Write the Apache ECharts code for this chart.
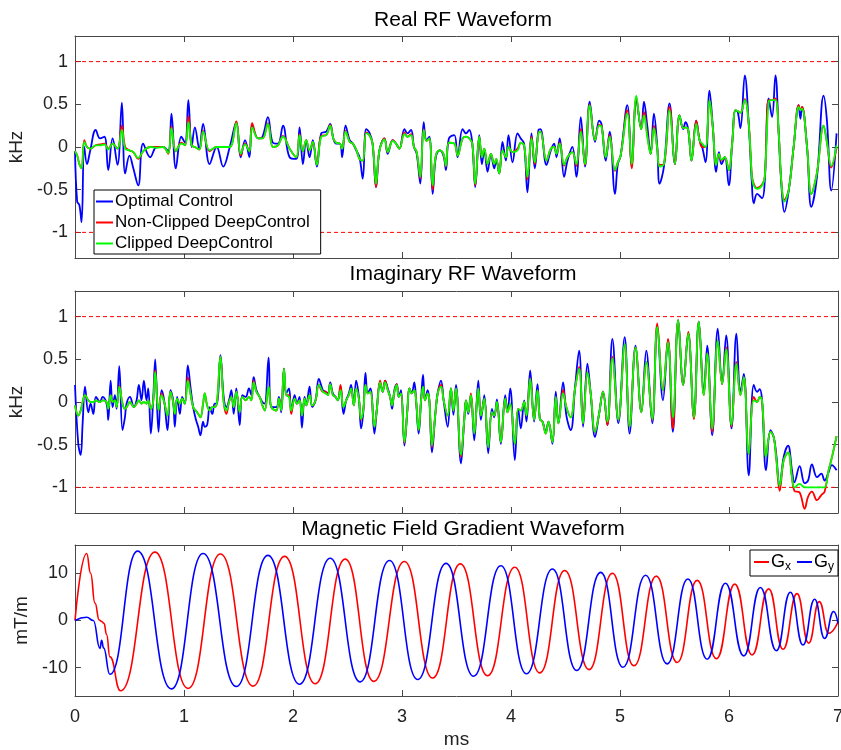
<!DOCTYPE html>
<html>
<head>
<meta charset="utf-8">
<script src="https://cdn.jsdelivr.net/npm/echarts@6/dist/echarts.min.js"></script>
<style>
html, body { margin: 0; padding: 0; background: #fff; }
#main { width: 841px; height: 750px; }
</style>
</head>
<body>
<div id="main"></div>
<script>
// ---- data ----
// time in ms, RF in kHz, gradients in mT/m

// Real RF waveform
var realT = [0,0.02,0.04,0.06,0.085,0.11,0.14,0.19,0.23,0.27,0.305,0.345,0.39,0.43,0.46,0.5,0.535,0.58,0.625,0.69,
  0.75,0.81,0.855,0.885,0.925,0.975,1.01,1.04,1.07,1.1,1.14,1.175,1.235,1.3,1.36,1.42,1.48,1.52,1.56,1.6,
  1.625,1.68,1.72,1.77,1.816,1.862,1.908,1.969,2.03,2.06,2.091,2.121,2.152,2.182,2.219,2.259,2.305,2.341,2.37,2.396,
  2.43,2.451,2.482,2.52,2.549,2.58,2.61,2.64,2.671,2.7,2.73,2.762,2.793,2.839,2.869,2.915,2.945,2.976,3.022,3.05,
  3.083,3.11,3.135,3.168,3.199,3.225,3.251,3.281,3.31,3.345,3.38,3.403,3.43,3.48,3.51,3.556,3.587,3.617,3.645,3.672,
  3.709,3.733,3.755,3.785,3.816,3.846,3.865,3.892,3.922,3.953,3.977,4.014,4.06,4.09,4.12,4.151,4.188,4.218,4.252,4.27,
  4.325,4.365,4.396,4.417,4.447,4.487,4.518,4.563,4.6,4.64,4.679,4.722,4.771,4.808,4.83,4.869,4.905,4.954,4.98,5.006,
  5.067,5.107,5.15,5.195,5.22,5.25,5.281,5.311,5.342,5.363,5.403,5.455,5.504,5.546,5.58,5.601,5.626,5.656,5.699,5.73,
  5.754,5.785,5.821,5.852,5.882,5.907,5.931,5.962,5.998,6.029,6.059,6.08,6.105,6.145,6.181,6.21,6.227,6.258,6.303,6.328,
  6.364,6.395,6.426,6.456,6.48,6.508,6.548,6.593,6.639,6.655,6.67,6.716,6.755,6.807,6.868,6.899,6.938,6.987];
var realOC = [-0.05,-0.64,-0.68,-0.88,0,-0.2,-0.04,0.2,0.1,0.12,-0.27,0.1,-0.21,0.52,-0.31,-0.1,-0.25,-0.45,0.04,-0.12,
  0,0,-0.05,0.39,-0.25,0.12,0.05,0.55,0,0.23,-0.02,0.27,-0.2,0,-0.23,0,0.29,-0.12,0.08,-0.12,
  0.25,0.1,0.12,0.35,0.05,0.04,0.25,-0.12,-0.14,0.23,-0.2,0.08,-0.12,0.08,-0.23,0.16,0.18,0.27,0.1,0.04,
  0.04,-0.12,0.25,0.08,0.04,-0.04,-0.12,-0.37,0.21,0.17,0.04,-0.47,-0.04,0.1,-0.08,0.08,0.04,-0.02,0.21,0.16,
  0.2,0,-0.08,-0.43,0.29,0.08,0.12,-0.55,-0.12,-0.04,-0.1,-0.27,0.1,0.14,-0.12,0.21,0.16,0.2,0.04,-0.47,
  0.14,-0.2,-0.04,-0.29,-0.08,-0.25,-0.16,-0.31,0.06,-0.16,0.14,-0.18,0.16,0.1,0.04,-0.53,0.16,-0.25,0.2,0.21,
  -0.21,-0.04,0.04,-0.12,0.1,-0.35,-0.16,0,-0.35,0.35,-0.23,0.53,0.06,0.31,0.27,-0.16,0.18,-0.55,-0.2,-0.1,
  0.49,-0.23,0.55,0.21,0.53,0.25,-0.08,0.39,0,-0.43,-0.23,0.51,-0.2,0.37,0.21,0.29,0.2,-0.16,0.31,0.08,
  0,-0.18,0.66,0.23,-0.29,-0.06,-0.2,-0.12,-0.45,0.04,0.43,0.41,0.22,0.84,0.27,-0.43,-0.66,-0.55,-0.6,-0.4,
  0.57,0.35,0.84,0.16,-0.43,-0.76,-0.51,0,0.49,0.33,0.47,0,-0.7,-0.35,0.6,0.3,-0.51,0.16];
var realNC = [-0.05,-0.1,-0.2,-0.25,0.08,0,-0.02,0.02,0.03,0.04,-0.02,0.04,-0.02,0.25,0,-0.04,-0.06,-0.14,-0.05,0,
  0,0,-0.08,0.24,-0.05,0.05,0.02,0.36,0.02,0,-0.03,0.19,-0.05,0,0,0,0.3,-0.1,0.04,-0.05,
  0.28,0.1,0.1,0.28,0,0.02,0.13,-0.02,-0.12,0.15,-0.05,0.08,-0.04,0.06,-0.21,0.13,0.14,0.26,0.1,0.05,
  0.04,-0.02,0.19,0.06,0.04,-0.03,-0.14,-0.16,0.17,0.14,0.04,-0.47,-0.04,0.1,-0.06,0.08,0.04,-0.02,0.17,0.12,
  0.15,0,-0.06,-0.37,0.21,0.07,0.1,-0.5,-0.1,-0.04,-0.08,-0.23,0.05,0.04,-0.1,0.1,0.12,0.1,0.04,-0.45,
  0.12,-0.12,-0.02,-0.2,-0.08,-0.2,-0.14,-0.31,-0.04,-0.12,0,-0.06,-0.02,0.05,0.02,-0.38,0.12,-0.2,0.17,0.18,
  -0.16,-0.02,0,-0.08,0.05,-0.22,-0.12,-0.06,-0.22,0.21,-0.21,0.5,0.08,0.26,0.25,-0.12,0.14,-0.28,-0.18,-0.1,
  0.43,-0.25,0.58,0.21,0.41,0.15,-0.08,0.25,-0.02,-0.21,-0.2,0.47,-0.2,0.37,0.22,0.23,0.2,-0.16,0.31,0.08,
  0,0,0.55,0.22,-0.21,-0.08,-0.16,-0.12,-0.27,0.04,0.43,0.42,0.4,0.56,0.27,-0.33,-0.43,-0.48,-0.44,-0.35,
  0.55,0.55,0.57,0.16,-0.4,-0.62,-0.5,0,0.49,0.43,0.47,0,-0.55,-0.3,0.25,0.05,-0.24,-0.01];
var realCL = [-0.05,-0.1,-0.2,-0.25,0.06,0,-0.02,0.02,0.02,0.03,-0.03,0.04,-0.02,0.2,-0.02,-0.04,-0.06,-0.13,-0.05,0,
  -0.01,0,-0.07,0.22,-0.05,0.04,0.02,0.29,0.02,0,-0.03,0.18,-0.04,0,0,0,0.28,-0.08,0.03,-0.05,
  0.23,0.1,0.1,0.27,0,0.02,0.12,-0.02,-0.12,0.14,-0.05,0.08,-0.04,0.06,-0.21,0.12,0.14,0.25,0.1,0.05,
  0.04,-0.02,0.18,0.06,0.04,-0.03,-0.14,-0.16,0.16,0.14,0.04,-0.43,-0.04,0.09,-0.06,0.07,0.04,-0.02,0.15,0.12,
  0.14,0,-0.06,-0.35,0.2,0.07,0.1,-0.45,-0.1,-0.04,-0.08,-0.22,0.05,0.04,-0.1,0.1,0.12,0.1,0.04,-0.43,
  0.12,-0.12,-0.02,-0.2,-0.08,-0.2,-0.14,-0.31,-0.04,-0.12,0,-0.06,-0.04,0.05,0.02,-0.35,0.1,-0.18,0.16,0.18,
  -0.16,-0.02,0,-0.08,0.04,-0.21,-0.12,-0.06,-0.2,0.18,-0.2,0.49,0.08,0.25,0.24,-0.12,0.12,-0.27,-0.18,-0.1,
  0.39,-0.2,0.6,0.21,0.37,0.12,-0.08,0.22,-0.02,-0.23,-0.2,0.43,-0.2,0.37,0.22,0.23,0.2,-0.16,0.27,0.08,
  0.04,0,0.55,0.22,-0.21,-0.08,-0.15,-0.12,-0.27,0.04,0.43,0.42,0.4,0.55,0.27,-0.35,-0.45,-0.49,-0.45,-0.35,
  0.53,0.55,0.55,0.16,-0.4,-0.64,-0.5,0,0.47,0.43,0.45,0,-0.55,-0.3,0.25,0.05,-0.22,0.02];

// Imaginary RF waveform
var imagT = [0,0.03,0.052,0.07,0.092,0.122,0.143,0.168,0.192,0.229,0.253,0.29,0.305,0.327,0.345,0.366,0.382,0.406,0.436,0.458,
  0.473,0.504,0.54,0.565,0.586,0.61,0.632,0.656,0.672,0.696,0.717,0.736,0.766,0.794,0.818,0.849,0.876,0.9,0.916,0.937,
  0.962,0.983,1.007,1.035,1.059,1.084,1.108,1.13,1.151,1.175,1.19,1.212,1.236,1.26,1.282,1.303,1.334,1.364,1.389,1.413,
  1.435,1.456,1.48,1.511,1.535,1.566,1.596,1.618,1.639,1.664,1.694,1.719,1.74,1.776,1.801,1.847,1.871,1.892,1.917,1.938,
  1.963,1.984,2.015,2.036,2.06,2.082,2.106,2.121,2.152,2.176,2.207,2.237,2.274,2.298,2.32,2.341,2.366,2.39,2.411,2.436,
  2.463,2.488,2.512,2.533,2.558,2.579,2.604,2.625,2.646,2.665,2.686,2.71,2.747,2.768,2.799,2.823,2.845,2.869,2.891,2.909,
  2.93,2.952,2.97,2.991,3.022,3.049,3.068,3.089,3.113,3.129,3.153,3.175,3.193,3.211,3.235,3.251,3.275,3.306,3.327,3.358,
  3.382,3.419,3.449,3.472,3.495,3.541,3.571,3.587,3.608,3.632,3.663,3.7,3.724,3.755,3.791,3.825,3.846,3.871,3.907,3.947,
  3.968,3.993,4.035,4.066,4.09,4.121,4.142,4.176,4.212,4.243,4.265,4.289,4.319,4.344,4.38,4.411,4.435,4.478,4.508,4.548,
  4.588,4.625,4.661,4.701,4.731,4.771,4.808,4.844,4.884,4.93,4.985,5.043,5.088,5.143,5.196,5.241,5.296,5.342,5.394,5.44,
  5.485,5.534,5.58,5.626,5.678,5.723,5.769,5.8,5.846,5.897,5.937,5.974,6.023,6.068,6.105,6.136,6.181,6.227,6.258,6.282,
  6.303,6.34,6.38,6.41,6.432,6.465,6.502,6.542,6.578,6.6,6.648,6.694,6.725,6.761,6.807,6.847,6.877,6.914,6.944,6.987];
var imagOC = [0.2,-0.49,-0.62,-0.25,0.18,-0.12,-0.02,-0.14,0.06,0,0.06,-0.02,-0.21,0.25,-0.06,0.08,-0.08,0.42,-0.33,-0.18,
  -0.02,0.06,-0.06,0.02,0.2,0.02,0.25,0.02,0.16,-0.37,0.02,0.5,-0.35,0.14,0.02,-0.33,0.14,0.02,-0.29,0.06,
  -0.14,0.06,-0.02,0.43,0.18,-0.06,-0.2,-0.29,-0.39,-0.23,-0.29,-0.27,-0.06,-0.14,-0.02,-0.02,0.55,0.06,-0.06,0.02,
  0.14,-0.14,0.16,-0.27,0.08,0.06,0.16,0.08,0.29,0.14,0.06,0,-0.02,0.52,-0.06,-0.06,0.06,-0.12,0.39,0.1,
  0.16,-0.1,0.08,-0.02,0.06,-0.3,0.06,-0.04,0.18,-0.06,0.02,0.27,0.14,0.12,0.1,0.23,0.1,0.06,0.02,0.18,
  -0.14,0.02,0.1,0.2,-0.04,0.25,0.06,-0.31,-0.1,0.34,0.1,0.16,-0.37,-0.1,0.23,0.12,0.25,0.16,0.06,-0.08,
  0.14,0.21,0.06,0.14,-0.51,-0.1,0.16,0.1,0.23,0.02,-0.37,0.02,0.32,0.02,0.14,0.02,-0.59,-0.14,0.1,0.25,
  0.02,-0.29,0.16,-0.15,0.2,-0.72,-0.21,0.02,-0.14,0.08,-0.45,0.25,-0.21,0.08,-0.6,-0.08,-0.18,0.03,-0.49,0.08,
  -0.12,0.16,-0.68,-0.08,-0.31,0.02,-0.23,0.37,-0.23,0.21,-0.2,-0.23,-0.35,-0.23,-0.49,0.12,-0.25,0.23,-0.16,-0.33,
  0.18,0.6,-0.29,0.45,0.1,-0.41,-0.14,0.12,-0.27,0.74,-0.25,0.76,-0.37,0.66,-0.12,0.6,-0.25,0.88,0.02,0.72,
  -0.35,0.96,0.2,0.8,-0.18,0.94,0.12,0.66,-0.39,0.86,0.21,0.78,-0.31,0.8,0.12,0.33,-0.86,0.2,0.12,0.15,
  0.02,-0.8,-0.33,-0.41,-0.6,-0.98,-0.64,-0.51,-0.8,-0.94,-0.75,-0.95,-0.92,-0.73,-0.88,-0.84,-0.92,-0.82,-0.74,-0.8];
var imagNC = [-0.04,-0.16,-0.1,0,0.08,0.02,0,0,0.02,0,0.02,0,-0.08,0.08,0,0.02,-0.06,0.19,-0.02,-0.08,
  -0.06,0,-0.06,-0.02,0.02,-0.02,0,-0.02,0.02,-0.08,0,0.37,-0.1,0.1,0,-0.16,0.12,0,-0.14,0.04,
  -0.02,0.04,-0.02,0.29,0.1,-0.06,-0.1,-0.14,-0.18,-0.02,0.1,-0.04,-0.1,-0.06,-0.06,0,0.53,0,-0.14,0,
  0.06,-0.06,0.12,-0.12,0.06,0.02,0.06,0.02,0.25,0.12,0.06,-0.04,-0.1,0.18,-0.06,-0.1,0.04,-0.1,0.39,0.08,
  0.08,-0.14,0.04,-0.02,0.02,-0.16,0.04,-0.04,0.08,-0.04,0.02,0.2,0.12,0.12,0.08,0.21,0.08,0.06,0.02,0.2,
  -0.06,0.02,0.08,0.16,-0.04,0.16,0.04,-0.21,-0.08,0.2,0.1,0.12,-0.29,-0.1,0.25,0.12,0.25,0.14,0.06,-0.04,
  0.12,0.21,0.06,0.1,-0.48,-0.1,0.16,0.1,0.14,0.02,-0.33,0.02,0.18,0.02,0.1,0.02,-0.53,-0.14,0.1,0.2,
  0.02,-0.16,0.16,-0.1,0.16,-0.64,-0.21,0.02,-0.12,0.1,-0.37,0.16,-0.16,0.04,-0.53,-0.12,-0.16,0,-0.47,0.04,
  -0.12,-0.02,-0.49,-0.08,-0.1,0,-0.16,0.28,-0.21,0.14,-0.2,-0.23,-0.37,-0.23,-0.47,0.06,-0.25,0.14,-0.06,-0.18,
  0.16,0.41,-0.25,0.35,0.1,-0.35,-0.14,0.12,-0.27,0.53,-0.21,0.66,-0.29,0.64,-0.12,0.47,-0.21,0.92,0.14,0.74,
  -0.31,0.96,0.2,0.82,-0.2,0.94,0.08,0.57,-0.35,0.72,0.21,0.64,-0.29,0.47,0.08,0.29,-0.61,0.06,0,0.06,
  0.02,-0.64,-0.35,-0.41,-0.64,-1.04,-0.68,-0.59,-0.88,-1.04,-1.06,-1.25,-1.11,-1.05,-1.15,-1.09,-1.05,-0.8,-0.65,-0.4];
var imagCL = [-0.04,-0.16,-0.1,0,0.08,0.02,0,0,0.02,0,0.02,0,-0.08,0.08,0,0.02,-0.06,0.18,-0.02,-0.08,
  -0.06,0,-0.06,-0.02,0.02,-0.02,0,-0.02,0.02,-0.08,0,0.35,-0.1,0.08,0,-0.16,0.12,0,-0.14,0.04,
  -0.02,0.04,-0.02,0.25,0.1,-0.06,-0.1,-0.14,-0.18,-0.02,0.1,-0.04,-0.1,-0.06,-0.06,0,0.53,0,-0.1,0,
  0.06,-0.06,0.12,-0.12,0.06,0.02,0.06,0.02,0.23,0.12,0.06,-0.04,-0.1,0.18,-0.06,-0.1,0.04,-0.1,0.39,0.08,
  0.06,-0.1,0.04,-0.02,0.02,-0.16,0.04,-0.04,0.08,-0.04,0.02,0.2,0.12,0.1,0.08,0.21,0.08,0.06,0.02,0.14,
  -0.06,0.02,0.08,0.16,-0.04,0.16,0.04,-0.2,-0.08,0.2,0.1,0.12,-0.29,-0.1,0.23,0.12,0.23,0.14,0.06,-0.04,
  0.12,0.2,0.06,0.1,-0.47,-0.1,0.16,0.1,0.14,0.02,-0.33,0.02,0.18,0.02,0.1,0.02,-0.51,-0.14,0.1,0.18,
  0.02,-0.16,0.16,-0.1,0.16,-0.62,-0.21,0.02,-0.12,0.08,-0.37,0.16,-0.16,0.04,-0.53,-0.12,-0.16,0,-0.47,0.04,
  -0.12,-0.02,-0.49,-0.08,-0.1,0,-0.16,0.27,-0.21,0.14,-0.2,-0.23,-0.37,-0.23,-0.47,0.06,-0.25,0.1,-0.06,-0.18,
  0.16,0.39,-0.25,0.35,0.1,-0.35,-0.14,0.12,-0.23,0.51,-0.21,0.68,-0.29,0.64,-0.12,0.47,-0.2,0.88,0.14,0.7,
  -0.18,0.96,0.2,0.8,-0.18,0.94,0.08,0.57,-0.31,0.72,0.21,0.62,-0.27,0.45,0.08,0.29,-0.61,0.02,0,0.06,
  0.02,-0.64,-0.35,-0.41,-0.64,-0.98,-0.68,-0.59,-0.88,-1,-0.96,-1,-1,-1,-1,-1,-1,-0.8,-0.65,-0.4];

// Gradient waveforms (peaks and troughs)
var gxT = [0,0.107,0.143,0.183,0.223,0.244,0.266,0.29,0.32,0.418,0.733,1.038,1.334,1.633,1.923,2.204,2.479,2.741,3.022,3.281,
  3.535,3.785,4.035,4.264,4.493,4.716,4.93,5.128,5.333,5.525,5.708,5.885,6.053,6.212,6.364,6.496,6.624,6.731,6.828,6.914,7.0];
var gx = [0,14.2,10,3.7,0.1,-0.2,-0.6,-3.0,-7.7,-14.9,14.5,-14.4,14.1,-13.9,13.6,-13.4,13.0,-12.9,12.5,-12.2,
  12.0,-11.7,11.3,-11.1,10.6,-10.4,10.0,-9.6,9.4,-8.9,8.5,-8.1,7.7,-7.3,6.7,-6.1,5.7,-4.8,4.0,-2.7,-0.3];
var gyT = [0,0.107,0.168,0.229,0.244,0.262,0.32,0.574,0.885,1.175,1.48,1.77,2.06,2.341,2.616,2.885,3.144,3.404,3.657,3.907,
  4.142,4.38,4.603,4.823,5.027,5.235,5.433,5.623,5.8,5.967,6.136,6.288,6.435,6.563,6.679,6.786,6.877,6.96,7.0];
var gy = [0,0.7,0,-5.9,-4.2,-5.8,-11.4,14.7,-14.5,14.2,-14.0,13.8,-13.5,13.2,-13.0,12.7,-12.5,12.1,-11.8,11.6,
  -11.3,10.9,-10.6,10.2,-9.9,9.6,-9.2,8.8,-8.2,7.9,-7.5,7.0,-6.4,6.0,-5.2,4.5,-3.8,1.9,-0.6];

// RF amplitude limits (dashed) and ticks
var rfLimitValues = [1, -1];
var timeRange = [0, 7];
var rfTicks = [-1, -0.5, 0, 0.5, 1];
var gradTicks = [-10, 0, 10];
var rfLimits = [-1.3, 1.3];
var gradLimits = [-16, 16];

// ---- chart ----
var FONT = '"Liberation Sans", Arial, Helvetica, sans-serif';
var AXC = '#484848';
var myChart = echarts.init(document.getElementById('main'), null, { renderer: 'canvas' });

function pairs(t, v) {
  return t.map(function (x, k) { return [x, v[k]]; });
}

var grids = [
  { left: 75, right: 3, top: 36, height: 222, outerBoundsMode: 'none' },
  { left: 75, right: 3, top: 291, height: 222, outerBoundsMode: 'none' },
  { left: 75, right: 3, top: 545, height: 151, outerBoundsMode: 'none' }
];

var xAxes = [], yAxes = [];
grids.forEach(function (g, i) {
  var last = (i === 2);
  xAxes.push({
    type: 'value', gridIndex: i, min: timeRange[0], max: timeRange[1], interval: 1, position: 'bottom',
    axisLine: { onZero: false, lineStyle: { color: AXC, width: 1 } },
    axisTick: { inside: true, length: 6, lineStyle: { color: AXC } },
    axisLabel: { show: last, margin: 12, fontSize: 18, color: '#222', fontFamily: FONT },
    splitLine: { show: false },
    name: last ? 'ms' : '', nameLocation: 'middle', nameGap: 34,
    nameTextStyle: { fontSize: 19, color: '#222', fontFamily: FONT }
  });
  xAxes.push({
    type: 'value', gridIndex: i, min: timeRange[0], max: timeRange[1], interval: 1, position: 'top',
    axisLine: { onZero: false, lineStyle: { color: AXC, width: 1 } },
    axisTick: { inside: true, length: 6, lineStyle: { color: AXC } },
    axisLabel: { show: false }, splitLine: { show: false }
  });
  var lim = last ? gradLimits : rfLimits;
  var tk = last ? gradTicks : rfTicks;
  yAxes.push({
    type: 'value', gridIndex: i, min: lim[0], max: lim[1], position: 'left',
    axisLine: { show: true, onZero: false, lineStyle: { color: AXC, width: 1 } },
    axisTick: { show: true, inside: true, length: 6, customValues: tk, lineStyle: { color: AXC } },
    axisLabel: { customValues: tk, margin: 7, fontSize: 18, color: '#222', fontFamily: FONT },
    splitLine: { show: false },
    name: last ? 'mT/m' : 'kHz', nameLocation: 'middle', nameGap: 42, nameRotate: 90,
    nameTextStyle: { fontSize: 19, color: '#222', fontFamily: FONT }
  });
  yAxes.push({
    type: 'value', gridIndex: i, min: lim[0], max: lim[1], position: 'right',
    axisLine: { show: true, onZero: false, lineStyle: { color: AXC, width: 1 } },
    axisTick: { show: true, inside: true, length: 6, customValues: tk, lineStyle: { color: AXC } },
    axisLabel: { show: false }, splitLine: { show: false }
  });
});

function line(name, panel, t, v, color, extra) {
  var s = {
    name: name, type: 'line', xAxisIndex: panel * 2, yAxisIndex: panel * 2,
    data: pairs(t, v), symbol: 'none', smooth: 0.4,
    lineStyle: { color: color, width: 1.8 }, itemStyle: { color: color },
    emphasis: { disabled: true },
    animation: false
  };
  if (extra) { for (var k in extra) s[k] = extra[k]; }
  return s;
}

// dashed limit line at a constant level across the time axis
function limit(panel, level) {
  return {
    name: 'limit', type: 'line', xAxisIndex: panel * 2, yAxisIndex: panel * 2,
    data: [[timeRange[0], level], [timeRange[1], level]],
    symbol: 'none', silent: true, animation: false, z: 1,
    lineStyle: { color: '#ff0000', width: 1, type: [4, 3] },
    emphasis: { disabled: true }
  };
}

var BLUE = '#0000ff', RED = '#ff0000', GREEN = '#00ff00';
var names = ['Optimal Control', 'Non-Clipped DeepControl', 'Clipped DeepControl'];

var series = [
  limit(0, rfLimitValues[0]), limit(0, rfLimitValues[1]),
  limit(1, rfLimitValues[0]), limit(1, rfLimitValues[1]),
  line(names[0], 0, realT, realOC, BLUE),
  line(names[1], 0, realT, realNC, RED),
  line(names[2], 0, realT, realCL, GREEN),
  line(names[0], 1, imagT, imagOC, BLUE),
  line(names[1], 1, imagT, imagNC, RED),
  line(names[2], 1, imagT, imagCL, GREEN),
  line('Gx', 2, gxT, gx, RED, { smooth: 0.5, smoothMonotone: 'x', lineStyle: { color: RED, width: 1.6 } }),
  line('Gy', 2, gyT, gy, BLUE, { smooth: 0.5, smoothMonotone: 'x', lineStyle: { color: BLUE, width: 1.6 } })
];

var titleStyle = { fontSize: 21, fontWeight: 'normal', color: '#000', fontFamily: FONT };

var option = {
  animation: false,
  backgroundColor: '#fff',
  title: [
    { text: 'Real RF Waveform', left: 458, top: 5, textAlign: 'center', textStyle: titleStyle },
    { text: 'Imaginary RF Waveform', left: 458, top: 259, textAlign: 'center', textStyle: titleStyle },
    { text: 'Magnetic Field Gradient Waveform', left: 458, top: 514, textAlign: 'center', textStyle: titleStyle }
  ],
  legend: [
    {
      data: names, orient: 'vertical', left: 94, top: 190,
      icon: 'rect', itemWidth: 17, itemHeight: 2, itemGap: 4,
      padding: [3, 11, 2, 2],
      backgroundColor: '#fff', borderColor: '#000', borderWidth: 1, borderRadius: 0,
      textStyle: { fontSize: 17, color: '#000', fontFamily: FONT, lineHeight: 17, padding: [0, 0, 0, -3] }
    },
    {
      data: ['Gx', 'Gy'], orient: 'horizontal', right: 3, top: 550,
      icon: 'rect', itemWidth: 15, itemHeight: 2, itemGap: 6,
      padding: [3, 4, 3, 4],
      backgroundColor: '#fff', borderColor: '#000', borderWidth: 1, borderRadius: 0,
      formatter: function (n) { return '{g|G}{s|' + n.charAt(1) + '}'; },
      textStyle: {
        color: '#000', fontFamily: FONT, padding: [0, 0, 0, -3],
        rich: {
          g: { fontSize: 18, fontFamily: FONT, color: '#000' },
          s: { fontSize: 12, fontFamily: FONT, color: '#000', padding: [10, 0, 0, 0] }
        }
      }
    }
  ],
  grid: grids,
  xAxis: xAxes,
  yAxis: yAxes,
  series: series
};

myChart.setOption(option);

window.addEventListener('resize', function () {
  myChart.resize();
});
</script>
</body>
</html>
